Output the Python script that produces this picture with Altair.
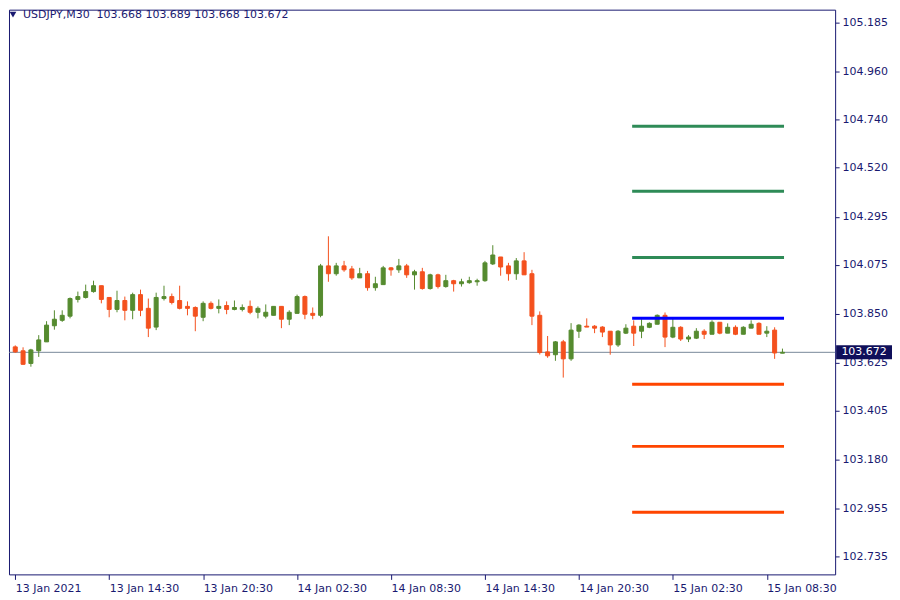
import json
import altair as alt
import numpy as np
import pandas as pd

symbol = "USDJPY"
timeframe = "M30"

opens = [103.697, 103.679, 103.621, 103.679, 103.720, 103.794, 103.819, 103.838, 103.915, 103.924,
         103.951, 103.978, 103.924, 103.869, 103.910, 103.865, 103.937, 103.874, 103.788, 103.919,
         103.928, 103.910, 103.883, 103.878, 103.833, 103.897, 103.874, 103.887, 103.869, 103.869,
         103.883, 103.856, 103.838, 103.842, 103.883, 103.824, 103.851, 103.928, 103.851, 103.842,
         104.069, 104.033, 104.069, 104.055, 104.014, 104.033, 103.969, 103.983, 104.060, 104.051,
         104.069, 104.028, 104.042, 103.965, 104.028, 103.974, 104.001, 103.987, 103.992, 103.996,
         104.001, 104.078, 104.110, 104.069, 104.033, 104.092, 104.033, 103.842, 103.674, 103.661,
         103.720, 103.642, 103.769, 103.792, 103.792, 103.788, 103.769, 103.706, 103.760, 103.792,
         103.769, 103.787, 103.801, 103.842, 103.742, 103.787, 103.733, 103.737, 103.769, 103.755,
         103.810, 103.760, 103.787, 103.755, 103.783, 103.805, 103.760, 103.774, 103.668]
highs = [103.704, 103.695, 103.688, 103.751, 103.815, 103.865, 103.865, 103.924, 103.951, 103.983,
         104.001, 103.978, 103.924, 103.955, 103.928, 103.946, 103.960, 103.919, 103.946, 103.978,
         103.942, 103.978, 103.906, 103.883, 103.906, 103.906, 103.915, 103.906, 103.910, 103.892,
         103.910, 103.883, 103.892, 103.883, 103.883, 103.865, 103.937, 103.933, 103.878, 104.078,
         104.205, 104.083, 104.092, 104.069, 104.060, 104.046, 104.019, 104.069, 104.064, 104.101,
         104.078, 104.051, 104.060, 104.033, 104.033, 104.028, 104.005, 104.010, 104.019, 104.010,
         104.092, 104.164, 104.110, 104.083, 104.105, 104.132, 104.051, 103.860, 103.747, 103.724,
         103.729, 103.806, 103.801, 103.828, 103.797, 103.792, 103.769, 103.774, 103.801, 103.819,
         103.824, 103.810, 103.846, 103.855, 103.833, 103.792, 103.751, 103.783, 103.778, 103.819,
         103.810, 103.805, 103.796, 103.792, 103.819, 103.810, 103.792, 103.787, 103.689]
lows = [103.670, 103.615, 103.606, 103.651, 103.720, 103.776, 103.812, 103.828, 103.901, 103.919,
        103.946, 103.897, 103.833, 103.856, 103.819, 103.824, 103.838, 103.742, 103.774, 103.910,
        103.892, 103.869, 103.842, 103.769, 103.815, 103.869, 103.851, 103.847, 103.865, 103.860,
        103.847, 103.828, 103.828, 103.842, 103.783, 103.797, 103.851, 103.824, 103.824, 103.833,
        103.996, 104.024, 104.042, 104.005, 104.014, 103.955, 103.955, 103.983, 104.024, 104.037,
        104.014, 103.960, 103.960, 103.960, 103.965, 103.969, 103.951, 103.974, 103.987, 103.978,
        103.996, 104.073, 104.024, 104.001, 104.005, 104.028, 103.797, 103.662, 103.647, 103.633,
        103.556, 103.633, 103.738, 103.788, 103.760, 103.742, 103.661, 103.697, 103.756, 103.701,
        103.737, 103.783, 103.801, 103.696, 103.737, 103.724, 103.719, 103.733, 103.733, 103.755,
        103.755, 103.760, 103.751, 103.755, 103.783, 103.755, 103.742, 103.642, 103.668]
closes = [103.674, 103.617, 103.683, 103.729, 103.797, 103.824, 103.842, 103.919, 103.928, 103.951,
          103.978, 103.915, 103.869, 103.910, 103.865, 103.937, 103.865, 103.783, 103.924, 103.928,
          103.901, 103.874, 103.874, 103.838, 103.897, 103.874, 103.883, 103.869, 103.878, 103.878,
          103.856, 103.874, 103.856, 103.883, 103.824, 103.856, 103.928, 103.847, 103.842, 104.069,
          104.033, 104.069, 104.051, 104.014, 104.033, 103.969, 103.987, 104.060, 104.051, 104.069,
          104.028, 104.042, 103.965, 104.028, 103.974, 104.001, 103.987, 103.996, 104.001, 104.001,
          104.083, 104.119, 104.064, 104.033, 104.092, 104.028, 103.838, 103.671, 103.656, 103.720,
          103.642, 103.774, 103.797, 103.788, 103.783, 103.765, 103.706, 103.769, 103.783, 103.760,
          103.792, 103.805, 103.842, 103.742, 103.787, 103.733, 103.742, 103.769, 103.755, 103.810,
          103.760, 103.787, 103.755, 103.787, 103.801, 103.755, 103.769, 103.669, 103.672]

tick_bars = [0, 12, 24, 36, 48, 60, 72, 84, 96]
tick_labels = ["13 Jan 2021", "13 Jan 14:30", "13 Jan 20:30", "14 Jan 02:30", "14 Jan 08:30",
               "14 Jan 14:30", "14 Jan 20:30", "15 Jan 02:30", "15 Jan 08:30"]
price_ticks = [102.735, 102.955, 103.180, 103.405, 103.625, 103.850,
               104.075, 104.295, 104.520, 104.740, 104.960, 105.185]

level_prices = [104.710, 104.412, 104.108, 103.828, 103.525, 103.240, 102.937]
level_kinds = ["R", "R", "R", "P", "S", "S", "S"]
level_start_bar = 78.8
level_end_bar = 98.2

NAVY = "#191970"
FONT = "DejaVu Sans"

candles = pd.DataFrame({
    "bar": np.arange(len(opens)),
    "open": opens, "high": highs, "low": lows, "close": closes,
})
candles["dir"] = np.where(candles["close"] >= candles["open"], "up", "down")

levels = pd.DataFrame({"price": level_prices, "kind": level_kinds,
                       "start": level_start_bar, "end": level_end_bar})

last = candles.iloc[-1]
last_df = pd.DataFrame({
    "price": [last["close"]],
    "label": [f"{last['close']:.3f}"],
    "header": [f"{symbol},{timeframe}\u00a0\u00a0{last['open']:.3f} {last['high']:.3f} {last['low']:.3f} {last['close']:.3f}"],
})

xs = alt.Scale(domain=[-0.16, 104.09], nice=False, zero=False)
ys = alt.Scale(domain=[102.652, 105.246], nice=False, zero=False)

label_expr = f"{json.dumps(tick_labels)}[indexof({json.dumps(tick_bars)}, datum.value)]"
xaxis = alt.Axis(values=tick_bars, labelExpr=label_expr, grid=False, domain=False,
                 tickSize=5, tickColor=NAVY, labelColor=NAVY, labelFont=FONT, labelFontSize=11,
                 labelAlign="left", labelPadding=3, labelFlush=False, labelOverlap=False)
yaxis = alt.Axis(values=price_ticks, format=".3f", orient="right", grid=False, domain=False,
                 tickSize=4, tickColor=NAVY, labelColor=NAVY, labelFont=FONT, labelFontSize=11,
                 labelPadding=3, labelFlush=False, labelOverlap=False)

color_scale = alt.Scale(domain=["up", "down", "R", "P", "S"],
                        range=["#558b2f", "#f4511e", "#2e8b57", "#0000ff", "#ff4500"])


def X(f):
    return alt.X(f, type="quantitative", scale=xs, axis=xaxis, title=None)


def Y(f):
    return alt.Y(f, type="quantitative", scale=ys, axis=yaxis, title=None)


wicks = alt.Chart(candles).mark_rule(strokeWidth=1).encode(
    x=X("bar"), y=Y("low"), y2="high",
    color=alt.Color("dir:N", scale=color_scale, legend=None),
)
bodies = alt.Chart(candles).mark_bar(size=4, strokeWidth=1).encode(
    x=X("bar"), y=Y("open"), y2="close",
    color=alt.Color("dir:N", scale=color_scale, legend=None),
    stroke=alt.Stroke("dir:N", scale=color_scale, legend=None),
)
price_line = alt.Chart(last_df).mark_rule(color="#778899", strokeWidth=1).encode(
    y=Y("price"),
)
level_lines = alt.Chart(levels).mark_rule(strokeWidth=3).encode(
    x=X("start"), x2="end", y=Y("price"),
    color=alt.Color("kind:N", scale=color_scale, legend=None),
)
box = alt.Chart(last_df).mark_point(
    shape="M-1,-0.25H1V0.25H-1Z", filled=True, opacity=1, color="#0f0f5a", size=3136
).encode(x=alt.value(857), y=Y("price"))
box_text = alt.Chart(last_df).mark_text(
    color="white", font=FONT, fontSize=11, align="center", baseline="middle"
).encode(x=alt.value(857), y=Y("price"), text="label:N")
tri = alt.Chart(last_df).mark_point(
    shape="triangle-down", filled=True, opacity=1, color=NAVY, size=45
).encode(x=alt.value(4), y=alt.value(5))
header = alt.Chart(last_df).mark_text(
    color=NAVY, font=FONT, fontSize=11, align="left", baseline="middle"
).encode(x=alt.value(14), y=alt.value(5), text="header:N")

chart = alt.layer(
    price_line, wicks, bodies, level_lines, box, box_text, tri, header
).properties(
    width=828, height=566, padding=0, background="white"
).configure_view(stroke=NAVY, strokeWidth=1)

chart.save("out.html", embed_options={"renderer": "svg", "actions": False})
